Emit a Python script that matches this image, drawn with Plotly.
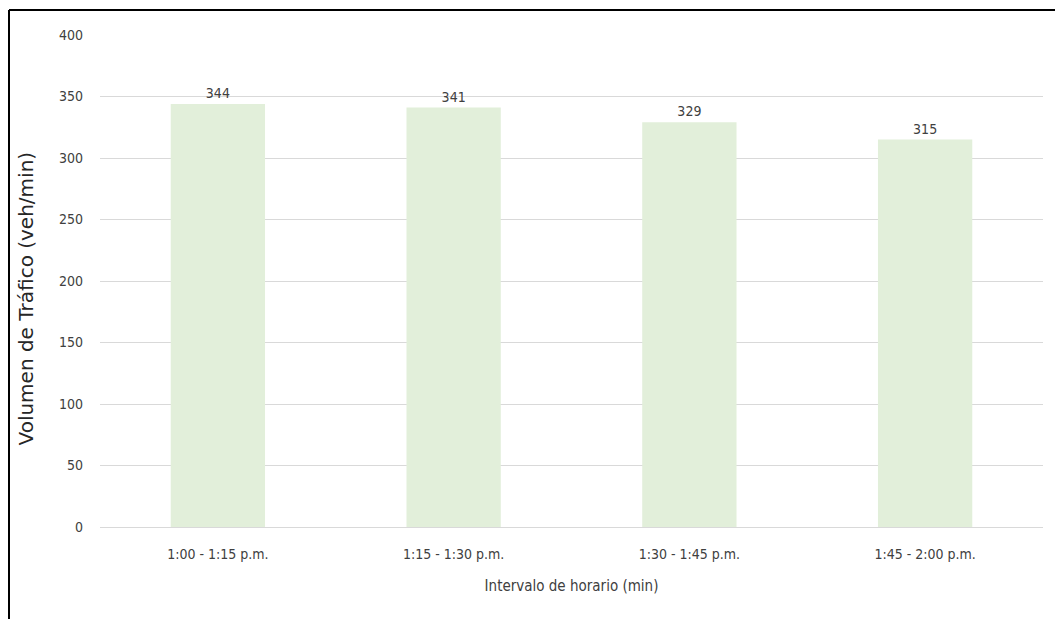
import plotly.graph_objects as go

intervalos = ["1:00 - 1:15 p.m.", "1:15 - 1:30 p.m.", "1:30 - 1:45 p.m.", "1:45 - 2:00 p.m."]
volumen = [344, 341, 329, 315]
y_ticks = [0, 50, 100, 150, 200, 250, 300, 350, 400]

LABEL_FONT = "DejaVu Sans Condensed, Liberation Sans Narrow, sans-serif"
TEXT_COLOR = "#404040"

fig = go.Figure(
    go.Bar(
        x=intervalos,
        y=volumen,
        width=0.4,
        marker=dict(color="#E2EFDA", line=dict(width=0)),
        text=[str(v) for v in volumen],
        textposition="outside",
        textfont=dict(family=LABEL_FONT, size=14, color=TEXT_COLOR),
        cliponaxis=False,
    )
)

fig.update_layout(
    width=1055,
    height=619,
    margin=dict(l=100, r=12, t=35, b=92),
    paper_bgcolor="white",
    plot_bgcolor="white",
    showlegend=False,
    xaxis=dict(
        showgrid=False,
        showline=False,
        ticks="",
        ticklabelstandoff=17,
        tickfont=dict(family=LABEL_FONT, size=14, color=TEXT_COLOR),
        title=dict(text="Intervalo de horario (min)",
                   font=dict(family=LABEL_FONT, size=15, color=TEXT_COLOR),
                   standoff=19),
    ),
    yaxis=dict(
        range=[0, 400],
        tickvals=y_ticks,
        showgrid=True,
        gridcolor="#D9D9D9",
        gridwidth=1,
        zeroline=True,
        zerolinecolor="#D9D9D9",
        zerolinewidth=1,
        showline=False,
        ticks="",
        ticklabelstandoff=16,
        tickfont=dict(family=LABEL_FONT, size=14, color=TEXT_COLOR),
    ),
)

# Vertical axis title
fig.add_annotation(
    text="Volumen de Tráfico (veh/min)",
    xref="paper", yref="paper", x=-0.0785, y=0.4644,
    xanchor="center", yanchor="middle", textangle=-90, showarrow=False,
    font=dict(family="DejaVu Sans, Verdana, sans-serif", size=20, color="#262626"),
)

# Outer frame (left and top edges)
fig.add_shape(type="line", xref="paper", yref="paper",
              x0=-0.0965, x1=-0.0965, y0=1.0508, y1=-0.2, line=dict(color="black", width=2))
fig.add_shape(type="line", xref="paper", yref="paper",
              x0=-0.0965, x1=1.02, y0=1.0508, y1=1.0508, line=dict(color="black", width=2))

fig.write_html("out.html")
